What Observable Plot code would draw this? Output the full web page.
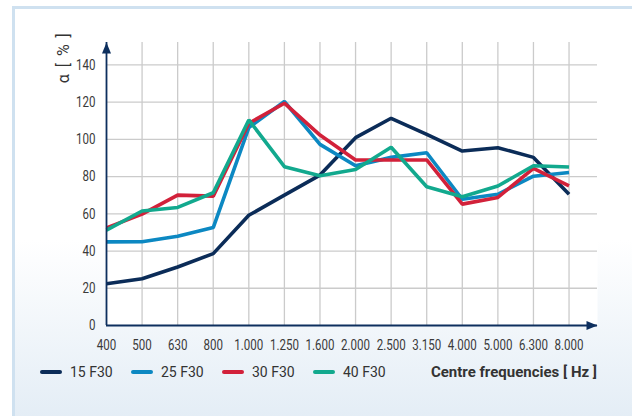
<!DOCTYPE html>
<html>
<head>
<meta charset="utf-8">
<script src="https://cdn.jsdelivr.net/npm/d3@7"></script>
<script src="https://cdn.jsdelivr.net/npm/@observablehq/plot@0.6"></script>
<style>
  html, body { margin: 0; padding: 0; width: 632px; height: 416px; overflow: hidden; background: #fff; }
  #panel { position: absolute; left: 12px; top: 6px; width: 640px; height: 420px;
    border-left: 3px solid #cfe1f0; border-top: 3px solid #cfe1f0;
    background: linear-gradient(to bottom, #ffffff 0%, #ffffff 55%, #e2ecf5 100%); }
  #chart { position: absolute; left: 0; top: 0; }
  #legend { position: absolute; left: 40px; top: 362px; width: 557px; height: 20px;
    display: flex; align-items: center; font-family: Roboto, "Noto Sans", sans-serif; font-size: 14px; color: #333; }
  .item { display: flex; align-items: center; width: 91px; }
  .sw { width: 22px; height: 4px; border-radius: 2px; margin-right: 8px; }
  .xtitle { margin-left: auto; font-weight: bold; font-size: 15px; color: #333; }
  .ylab { letter-spacing: 1.5px; }
</style>
</head>
<body>
<div id="panel"></div>
<div id="chart"></div>
<div id="legend"></div>
<script>
const freqLabels = ["400","500","630","800","1.000","1.250","1.600","2.000","2.500","3.150","4.000","5.000","6.300","8.000"];
const seriesNames = ["15 F30","25 F30","30 F30","40 F30"];
const seriesColors = ["#0b2c58","#0c88c2","#d2213a","#12a98e"];
const s15 = [22.4, 25.1, 31.4, 38.6, 59.2, 70.0, 80.8, 100.9, 111.3, 102.7, 93.7, 95.5, 90.3, 70.5];
const s25 = [44.9, 45.0, 47.9, 52.6, 106.3, 120.3, 97.3, 85.8, 90.3, 92.8, 67.8, 70.5, 80.2, 82.2];
const s30 = [52.4, 59.8, 70.0, 69.5, 108.6, 119.4, 102.3, 88.9, 88.9, 88.9, 65.2, 68.8, 84.4, 75.0];
const s40 = [51.2, 61.5, 63.4, 71.3, 110.4, 85.3, 80.4, 83.8, 95.7, 74.5, 69.1, 74.9, 85.8, 85.1];
const yTicks = [0, 20, 40, 60, 80, 100, 120, 140];
const yLabel = "α [ % ]";
const xTitle = "Centre frequencies [ Hz ]";

const allSeries = [s15, s25, s30, s40];
const rows = [];
allSeries.forEach((arr, k) => arr.forEach((v, i) => rows.push({i, v, s: seriesNames[k]})));

const xMax = 13.8, yMax = 152;
const axisColor = "#0d2f5e";
const gridColor = "#cbcbcb";
const idx = freqLabels.map((_, i) => i);

const triRight = { draw(ctx) { ctx.moveTo(0, 0); ctx.lineTo(-11, -4.5); ctx.lineTo(-11, 4.5); ctx.closePath(); } };
const triUp = { draw(ctx) { ctx.moveTo(0, 0); ctx.lineTo(-4.5, 11); ctx.lineTo(4.5, 11); ctx.closePath(); } };

const plot = Plot.plot({
  width: 632,
  height: 356,
  marginLeft: 106,
  marginRight: 35,
  marginTop: 42,
  marginBottom: 31,
  style: { background: "transparent", fontFamily: "Roboto, sans-serif", fontSize: "14px", color: "#3a3a3a" },
  x: { type: "linear", domain: [0, xMax], axis: null },
  y: { domain: [0, yMax], axis: null },
  color: { domain: seriesNames, range: seriesColors },
  marks: [
    Plot.frame({ fill: "white", stroke: null }),
    Plot.gridY(yTicks.filter(d => d > 0), { stroke: gridColor, strokeOpacity: 1, strokeWidth: 1.3 }),
    Plot.gridX(idx.filter(d => d > 0), { stroke: gridColor, strokeOpacity: 1, strokeWidth: 1.3 }),
    Plot.axisY(yTicks, { tickSize: 0, tickPadding: 11, fontSize: 15, fill: "#3a3a3a", label: null }),
    Plot.axisX(idx, { tickSize: 0, tickPadding: 14, fontSize: 15, fill: "#3a3a3a", tickFormat: i => freqLabels[i], label: null }),
    Plot.line(rows, { x: "i", y: "v", z: "s", stroke: "s", strokeWidth: 3.6, strokeLinejoin: "miter", strokeLinecap: "butt" }),
    Plot.ruleY([0], { stroke: axisColor, strokeWidth: 1.8 }),
    Plot.ruleX([0], { stroke: axisColor, strokeWidth: 1.8 }),
    Plot.dot([0], { x: () => xMax, y: () => 0, symbol: triRight, fill: axisColor, stroke: null, r: 5 }),
    Plot.dot([0], { x: () => 0, y: () => yMax, symbol: triUp, fill: axisColor, stroke: null, r: 5 }),
    Plot.text([yLabel], { frameAnchor: "top-left", dx: -49, dy: 15, rotate: -90, text: d => d, textAnchor: "middle",
      fontFamily: "Roboto, sans-serif", fontSize: 16, fill: "#333", className: "ylab" })
  ]
});
// condense tick labels horizontally (the reference uses a narrow face)
plot.querySelectorAll('g[aria-label="x-axis tick label"] text, g[aria-label="y-axis tick label"] text').forEach(t => {
  const tr = t.getAttribute("transform") || "";
  t.setAttribute("transform", tr + " scale(0.77,1)");
});
document.getElementById("chart").appendChild(plot);

const legend = document.getElementById("legend");
seriesNames.forEach((n, k) => {
  const it = document.createElement("div");
  it.className = "item";
  const sw = document.createElement("span");
  sw.className = "sw";
  sw.style.background = seriesColors[k];
  const t = document.createElement("span");
  t.textContent = n;
  it.appendChild(sw); it.appendChild(t);
  legend.appendChild(it);
});
const xt = document.createElement("span");
xt.className = "xtitle";
xt.textContent = xTitle;
legend.appendChild(xt);
</script>
</body>
</html>
